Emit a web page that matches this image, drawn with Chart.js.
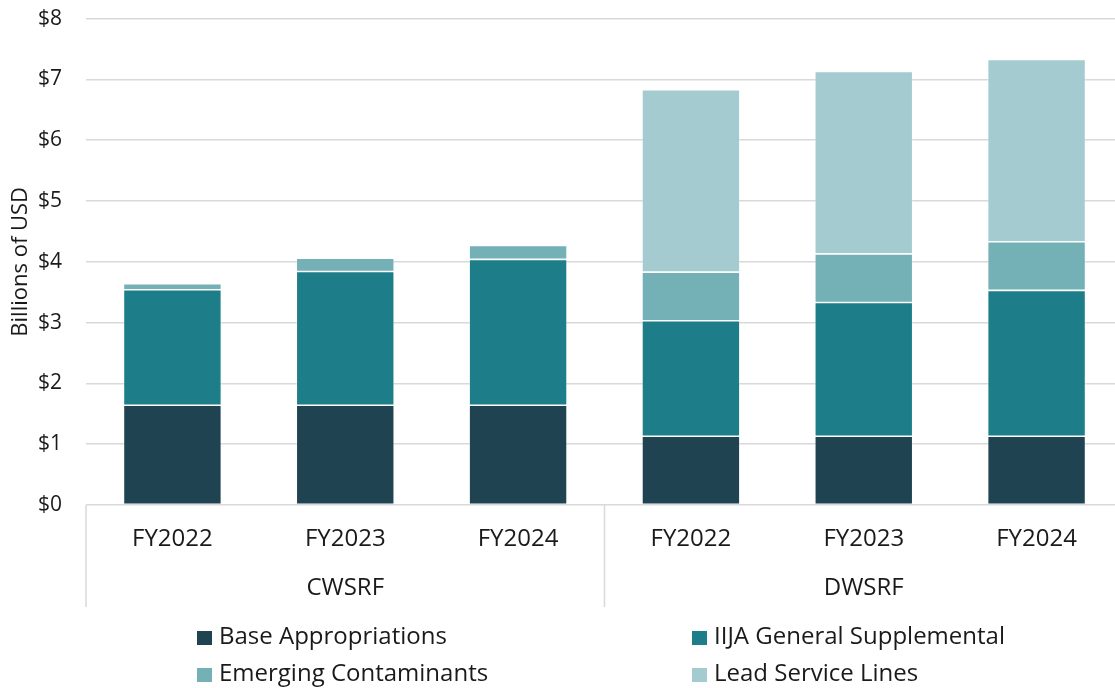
<!DOCTYPE html>
<html>
<head>
<meta charset="utf-8">
<script src="https://cdn.jsdelivr.net/npm/chart.js@4.4.1/dist/chart.umd.min.js"></script>
<style>
  html, body { margin: 0; padding: 0; background: #fff; }
  #wrap { width: 1115px; height: 688px; position: relative; overflow: hidden; }
  #myChart { position: absolute; left: 0; top: -18px; }
</style>
</head>
<body>
<div id="wrap"><canvas id="myChart" width="1123" height="706"></canvas></div>
<script>
// data (billions of USD)
const years = ['FY2022', 'FY2023', 'FY2024', 'FY2022', 'FY2023', 'FY2024'];
const groups = ['CWSRF', 'DWSRF'];
const groupSize = 3;
const baseAppropriations = [1.64, 1.64, 1.64, 1.13, 1.13, 1.13];
const iijaGeneral = [1.90, 2.20, 2.40, 1.90, 2.20, 2.40];
const emergingContaminants = [0.10, 0.22, 0.23, 0.80, 0.80, 0.80];
const leadServiceLines = [0, 0, 0, 3.00, 3.00, 3.00];
const yTicks = [0, 1, 2, 3, 4, 5, 6, 7, 8];

const seriesNames = ['Base Appropriations', 'IIJA General Supplemental', 'Emerging Contaminants', 'Lead Service Lines'];
const seriesColors = ['#1f4350', '#1d7e89', '#74b1b6', '#a3cbd0'];

const fontFamily = '"Open Sans", "Liberation Sans", Arial, sans-serif';
const lineColor = '#d9d9d9';
const shiftY = 18; // canvas is drawn 18px above the page top

const ctx = document.getElementById('myChart');

function makeSet(i, values) {
    return {
        label: seriesNames[i],
        data: values,
        backgroundColor: seriesColors[i],
        borderColor: 'rgba(255,255,255,0.45)',
        borderWidth: 0.8,
        borderSkipped: false,
        categoryPercentage: 1,
        barPercentage: 0.567,
    };
}

// group labels under the axis + separators
const groupAxisPlugin = {
    id: 'groupAxis',
    afterDraw(chart) {
        const c = chart.ctx;
        const area = chart.chartArea;
        const step = (area.right - area.left) / years.length;
        c.save();
        c.strokeStyle = lineColor;
        c.lineWidth = 1.5;
        for (let g = 0; g <= groups.length - 1; g++) {
            const lx = area.left + g * groupSize * step;
            c.beginPath();
            c.moveTo(lx, area.bottom);
            c.lineTo(lx, area.bottom + 102);
            c.stroke();
        }
        c.fillStyle = '#1a1a1a';
        c.font = '24px ' + fontFamily;
        c.textAlign = 'center';
        c.textBaseline = 'middle';
        groups.forEach((name, g) => {
            const cx = area.left + (g * groupSize + groupSize / 2) * step;
            c.fillText(name, cx, area.bottom + 83);
        });
        c.restore();
    }
};

// two-column legend at the bottom
const gridLegendPlugin = {
    id: 'gridLegend',
    afterDraw(chart) {
        const c = chart.ctx;
        const cols = [197, 692];
        const rows = [638 + shiftY, 675 + shiftY];
        c.save();
        c.font = '24px ' + fontFamily;
        c.textBaseline = 'middle';
        c.textAlign = 'left';
        seriesNames.forEach((name, i) => {
            const col = cols[i % 2];
            const row = rows[Math.floor(i / 2)];
            c.fillStyle = seriesColors[i];
            c.fillRect(col, row - 7, 15, 14);
            c.fillStyle = '#1a1a1a';
            c.fillText(name, col + 22, row - 1);
        });
        c.restore();
    }
};

new Chart(ctx, {
    type: 'bar',
    data: {
        labels: years,
        datasets: [
            makeSet(0, baseAppropriations),
            makeSet(1, iijaGeneral),
            makeSet(2, emergingContaminants),
            makeSet(3, leadServiceLines),
        ]
    },
    options: {
        responsive: false,
        animation: false,
        layout: { padding: { top: 0, right: 0, bottom: 81, left: 0 } },
        plugins: {
            legend: { display: false },
            tooltip: { enabled: false },
        },
        scales: {
            x: {
                stacked: true,
                grid: { display: false, drawTicks: false },
                border: { display: false },
                ticks: {
                    color: '#1a1a1a',
                    font: { family: fontFamily, size: 24 },
                    padding: 20,
                    maxRotation: 0,
                },
                afterFit(scale) { scale.height = 102; }
            },
            y: {
                stacked: true,
                min: 0,
                max: 8,
                afterBuildTicks(scale) { scale.ticks = yTicks.map(v => ({ value: v })); },
                grid: { color: lineColor, lineWidth: 1.5, drawTicks: false },
                border: { display: false },
                ticks: {
                    color: '#1a1a1a',
                    font: { family: fontFamily, size: 21 },
                    padding: 24,
                    callback: v => '$' + v,
                },
                title: {
                    display: true,
                    text: 'Billions of USD',
                    color: '#1a1a1a',
                    font: { family: fontFamily, size: 22 },
                    padding: { top: 8, bottom: 0 },
                },
                afterFit(scale) { scale.width = 86; }
            }
        }
    },
    plugins: [groupAxisPlugin, gridLegendPlugin]
});
</script>
</body>
</html>
